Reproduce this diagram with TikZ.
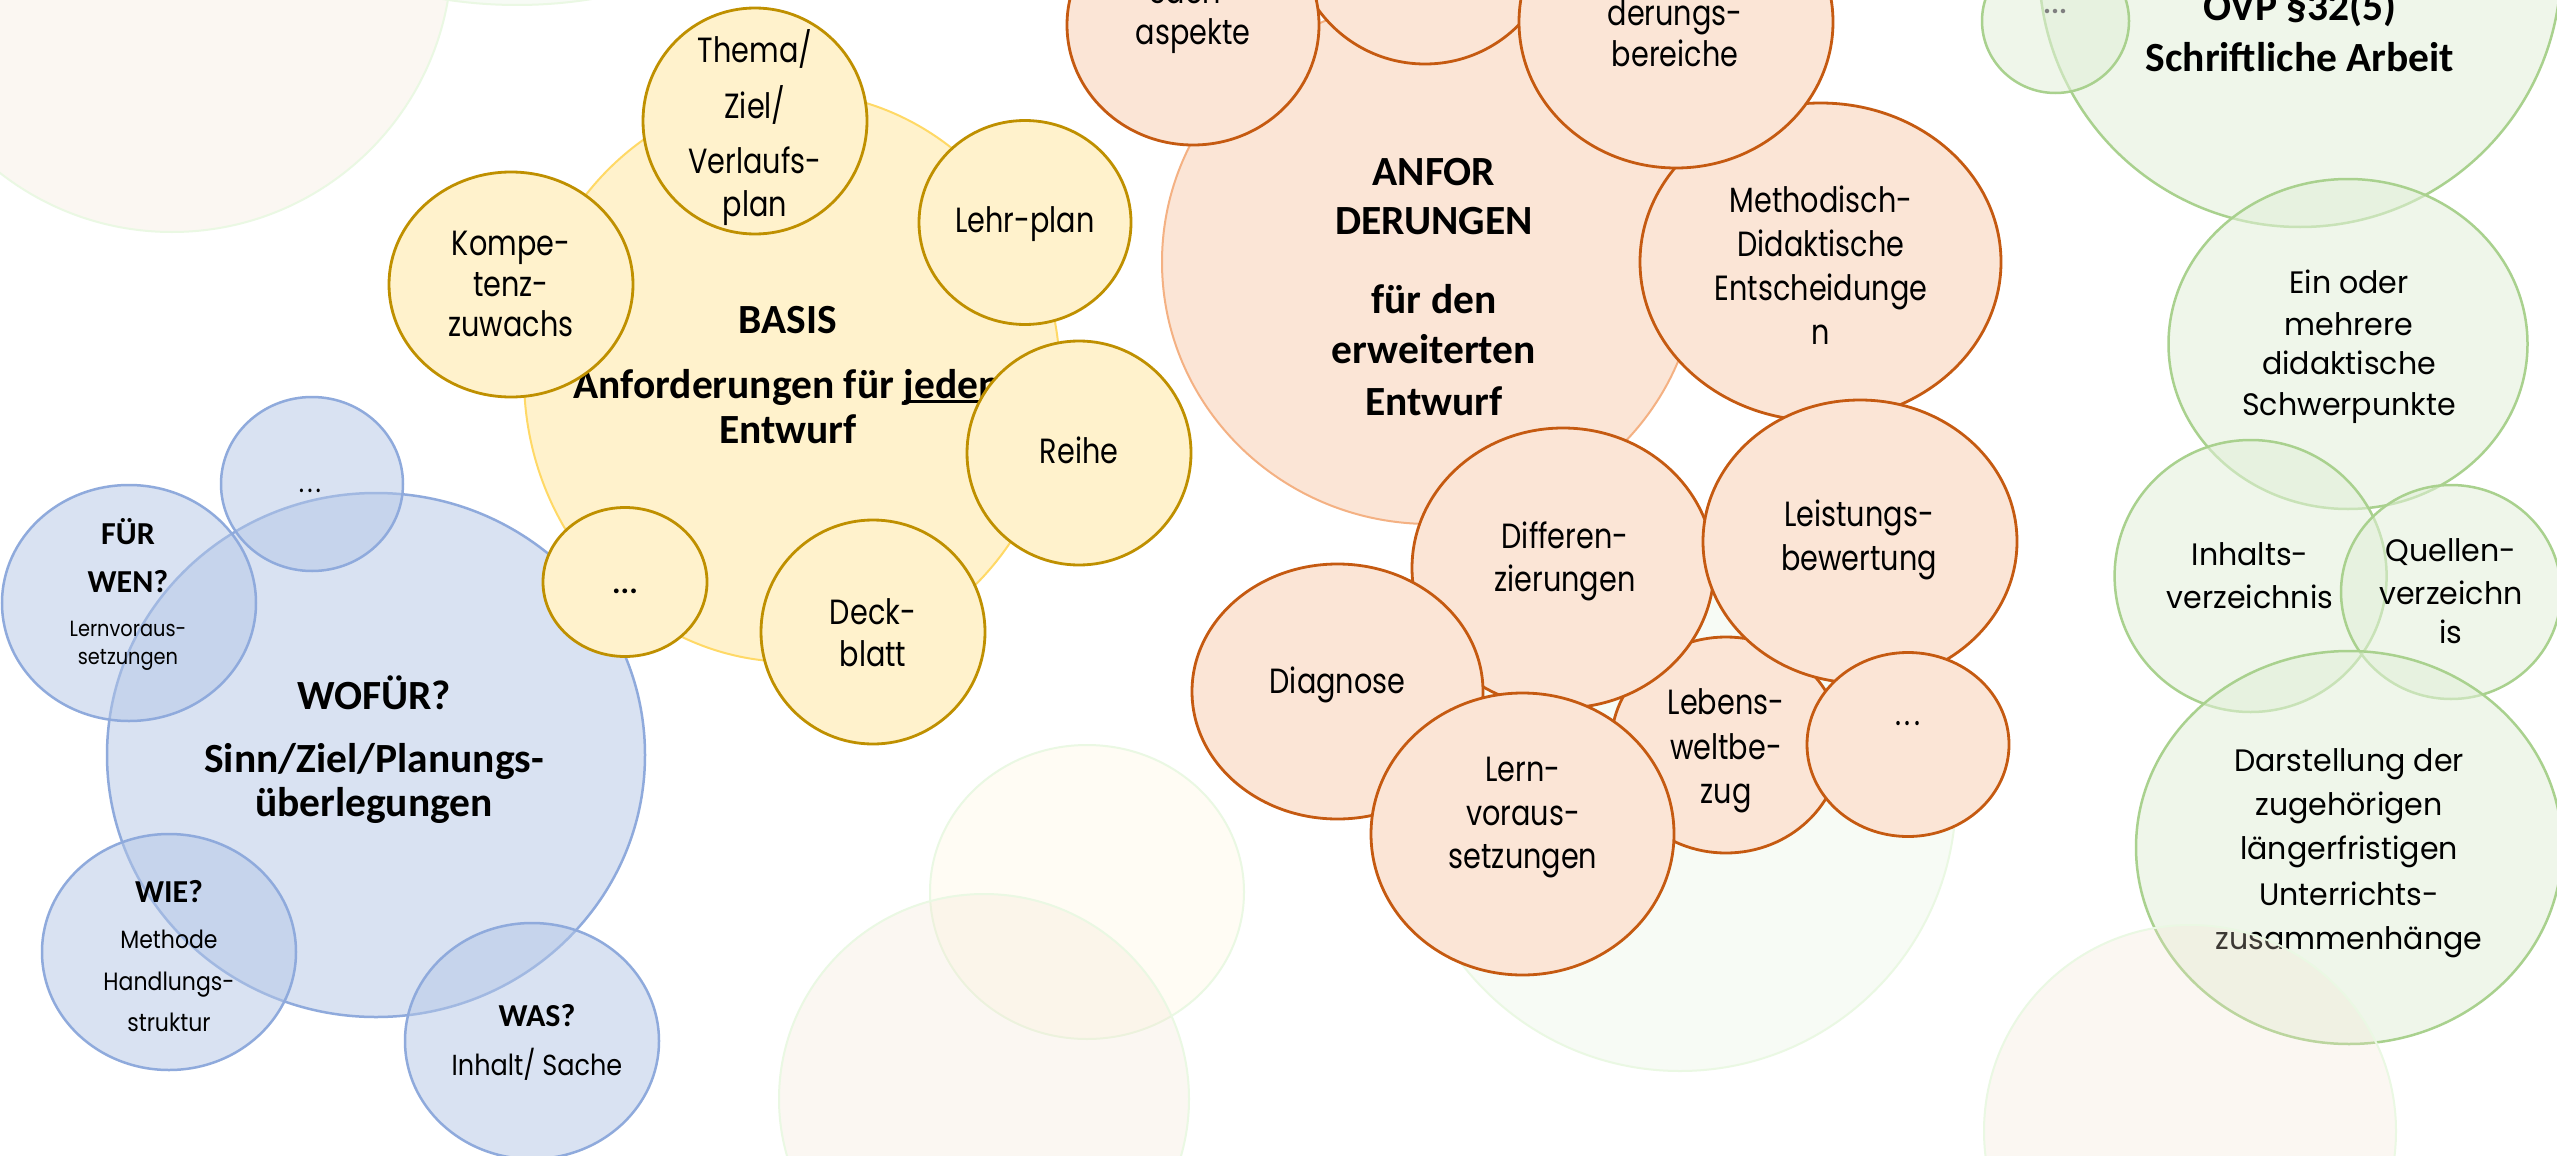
\documentclass[tikz,border=0pt]{standalone}
\usepackage{fontspec}
\setmainfont{Carlito}
\newfontfamily\geo[FakeStretch=0.82]{Poppins}
\newfontfamily\geob[FakeStretch=0.88]{Poppins}
\newfontfamily\geow[FakeStretch=0.97]{Poppins}
\newfontfamily\calfont{Carlito}
\definecolor{bluF}{HTML}{B4C7E7}
\definecolor{bluD}{HTML}{8FAADC}
\definecolor{yelF}{HTML}{FFF2CC}
\definecolor{yelBig}{HTML}{FFD966}
\definecolor{yelD}{HTML}{BF9000}
\definecolor{orF}{HTML}{FBE5D6}
\definecolor{orBig}{HTML}{F4B183}
\definecolor{orD}{HTML}{C55A11}
\definecolor{grF}{HTML}{E2F0D9}
\definecolor{grD}{HTML}{A9D18E}
\definecolor{faintG}{HTML}{EAF8E3}
\definecolor{faintP}{HTML}{F3E3CF}
\definecolor{faintY}{HTML}{FFF2CC}
\definecolor{dotgray}{HTML}{7F7F7F}
\newcommand\txtline[4]{\node[#1] (#2) at (#3) {#4};}
\newcommand\ul[1]{{\setbox0\hbox{#1}\rlap{\rule[-4.5pt]{\wd0}{2.5pt}}\box0}}
\newcommand\sdots{.\hspace{3pt}.\hspace{3pt}.}
\tikzset{
  faintpeach/.style={fill=faintP, fill opacity=0.25, draw=faintG, draw opacity=1, line width=2pt},
  faintyel/.style={fill=faintY, fill opacity=0.2, draw=faintG, draw opacity=1, line width=2pt},
  faintgreen/.style={fill=grF, fill opacity=0.25, draw=faintG, draw opacity=1, line width=2pt},
  bluebub/.style={fill=bluF, fill opacity=0.5, draw=bluD, line width=2.5pt},
  yelbig/.style={fill=yelF, draw=yelBig, line width=2pt},
  yelbub/.style={fill=yelF, draw=yelD, line width=2.8pt},
  orbig/.style={fill=orF, draw=orBig, line width=2pt},
  orbub/.style={fill=orF, draw=orD, line width=2.8pt},
  grbub/.style={fill=grF, fill opacity=0.55, draw=grD, line width=2.5pt},
  tx/.style={anchor=base, inner sep=0pt, outer sep=0pt, text=black},
  geoM/.style={tx, font=\geo\fontsize{35}{35}\selectfont},
  grT/.style={tx, font=\geow\fontsize{31}{31}\selectfont},
  bl23/.style={tx, font=\geob\fontsize{22}{22}\selectfont},
  bl26/.style={tx, font=\geob\fontsize{25}{25}\selectfont},
  bl30/.style={tx, font=\geob\fontsize{29}{29}\selectfont},
  bB/.style={tx, font=\calfont\bfseries\fontsize{41.5}{41.5}\selectfont},
  bS/.style={tx, font=\calfont\bfseries\fontsize{32}{32}\selectfont},
}
\begin{document}
\begin{tikzpicture}[x=1pt, y=-1pt]
\useasboundingbox (0,0) rectangle (2557,1156);
\clip (0,0) rectangle (2557,1156);
\fill[white] (0,0) rectangle (2557,1156);
% faint background circles
\path[faintpeach] (172,-48) circle [radius=280];
\path[faintgreen] (517,-460) circle [radius=465];
\path[faintyel] (1087,892) ellipse [x radius=157, y radius=147];
\path[faintpeach] (984,1099) circle [radius=205];
\path[faintgreen] (1680,795) circle [radius=276];
% blue cluster
\path[bluebub] (376,755) ellipse [x radius=269, y radius=262];
\path[bluebub] (312,484) ellipse [x radius=91, y radius=87];
\path[bluebub] (129,603) ellipse [x radius=127, y radius=118];
\path[bluebub] (169,952) ellipse [x radius=127, y radius=118];
\path[bluebub] (532,1041) ellipse [x radius=127, y radius=118];
\txtline{bS}{fur}{128,544.4}{FÜR}
\txtline{bS}{wen}{128,592}{WEN?}
\txtline{bl23}{lvs1}{128,636.4}{Lernvoraus-}
\txtline{bl23}{lvs2}{128,664}{setzungen}
\txtline{bl30}{bdots}{310,492}{\sdots}
\txtline{bB}{wofur}{374,709}{WOFÜR?}
\txtline{bB}{sinn}{374,772.6}{Sinn/Ziel/Planungs-}
\txtline{bB}{uber}{374,816.6}{überlegungen}
\txtline{bS}{wie}{169,902}{WIE?}
\txtline{bl26}{meth}{169,948}{Methode}
\txtline{bl26}{handl}{169,990}{Handlungs-}
\txtline{bl26}{strukt}{169,1031.5}{struktur}
\txtline{bS}{was}{537,1026}{WAS?}
\txtline{bl30}{inhsache}{537,1075.5}{Inhalt/ Sache}
% yellow cluster
\path[yelbig] (792,377) ellipse [x radius=268, y radius=285];
\txtline{bB}{basis}{788,333.5}{BASIS}
\txtline{bB}{anf}{787,398.4}{Anforderungen für \ul{jeden}}
\txtline{bB}{entw}{788,443.5}{Entwurf}
\path[yelbub] (755,121) ellipse [x radius=112, y radius=113];
\path[yelbub] (511,284.5) ellipse [x radius=122, y radius=112.5];
\path[yelbub] (1025,222.5) ellipse [x radius=106, y radius=102];
\path[yelbub] (1079,453) ellipse [x radius=112, y radius=112];
\path[yelbub] (873,632) ellipse [x radius=112, y radius=112];
\path[yelbub] (625,582) ellipse [x radius=82, y radius=74.5];
\txtline{geoM}{thema1}{755,63}{Thema/}
\txtline{geoM}{thema2}{755,118.7}{Ziel/}
\txtline{geoM}{thema3}{755,173.5}{Verlaufs-}
\txtline{geoM}{thema4}{755,216}{plan}
\txtline{geoM}{komp1}{511,255.4}{Kompe-}
\txtline{geoM}{komp2}{511,296.6}{tenz-}
\txtline{geoM}{komp3}{511,336}{zuwachs}
\txtline{geoM}{lehr}{1025,232.6}{Lehr-plan}
\txtline{geoM}{reihe}{1079,463}{Reihe}
\txtline{geoM}{deck1}{873,624}{Deck-}
\txtline{geoM}{deck2}{873,666.4}{blatt}
\txtline{bS}{ydots}{625,593.7}{...}
% orange cluster
\path[orbig] (1430,262) ellipse [x radius=268, y radius=262];
\txtline{bB}{anfor1}{1434,185.4}{ANFOR}
\txtline{bB}{anfor2}{1434,234.7}{DERUNGEN}
\txtline{bB}{anfor3}{1434,313.7}{für den}
\txtline{bB}{anfor4}{1434,363}{erweiterten}
\txtline{bB}{anfor5}{1434,415}{Entwurf}
\path[orbub] (1425,-68) circle [radius=132];
\path[orbub] (1193,25) ellipse [x radius=126, y radius=120];
\path[orbub] (1820.5,262) ellipse [x radius=180.5, y radius=159];
\path[orbub] (1676,22) ellipse [x radius=157, y radius=146];
\path[orbub] (1726,745) ellipse [x radius=115, y radius=108];
\path[orbub] (1563,568) ellipse [x radius=151, y radius=140];
\path[orbub] (1860,541.5) ellipse [x radius=157, y radius=141.5];
\path[orbub] (1908,744.5) ellipse [x radius=101, y radius=92];
\path[orbub] (1337.5,691.5) ellipse [x radius=145.5, y radius=127.5];
\path[orbub] (1522.5,834) ellipse [x radius=151.5, y radius=141];
\txtline{geoM}{sach1}{1193,4}{Sach-}
\txtline{geoM}{sach2}{1193,45}{aspekte}
\txtline{geoM}{ber1}{1675,26}{derungs-}
\txtline{geoM}{ber2}{1675,66.7}{bereiche}
\txtline{geoM}{md1}{1821,212}{Methodisch-}
\txtline{geoM}{md2}{1821,256}{Didaktische}
\txtline{geoM}{md3}{1821,300}{Entscheidunge}
\txtline{geoM}{md4}{1821,344.4}{n}
\txtline{geoM}{lb1}{1859,526.5}{Leistungs-}
\txtline{geoM}{lb2}{1859,570}{bewertung}
\txtline{geoM}{dif1}{1565,548.5}{Differen-}
\txtline{geoM}{dif2}{1565,591}{zierungen}
\txtline{geoM}{diag}{1337.5,693.8}{Diagnose}
\txtline{geoM}{leb1}{1726,714}{Lebens-}
\txtline{geoM}{leb2}{1726,759.6}{weltbe-}
\txtline{geoM}{leb3}{1726,803.5}{zug}
\txtline{geoM}{odots}{1908,725}{\sdots}
\txtline{geoM}{lern1}{1523,781.5}{Lern-}
\txtline{geoM}{lern2}{1523,825}{voraus-}
\txtline{geoM}{lern3}{1523,868.7}{setzungen}
% green cluster
\path[grbub] (2300,-34) circle [radius=261];
\path[grbub] (2055.5,21) ellipse [x radius=73.5, y radius=72];
\path[grbub] (2348,344) ellipse [x radius=179.5, y radius=165];
\path[grbub] (2250.6,576) circle [radius=136];
\path[grbub] (2451,592) ellipse [x radius=110, y radius=107];
\path[grbub] (2349,847.5) ellipse [x radius=213, y radius=196.5];
\node[tx, font=\calfont\bfseries\fontsize{30}{30}\selectfont, text=dotgray] (gdots) at (2055,14) {...};
\txtline{bB}{ovp}{2300,21}{OVP §32(5)}
\txtline{bB}{schr}{2300,72}{Schriftliche Arbeit}
\txtline{grT}{ein1}{2349,293}{Ein oder}
\txtline{grT}{ein2}{2349,335}{mehrere}
\txtline{grT}{ein3}{2349,374.3}{didaktische}
\txtline{grT}{ein4}{2349,415}{Schwerpunkte}
\txtline{grT}{inh1}{2250,565.6}{Inhalts-}
\txtline{grT}{inh2}{2250,608}{verzeichnis}
\txtline{grT}{que1}{2451,561.8}{Quellen-}
\txtline{grT}{que2}{2451,604}{verzeichn}
\txtline{grT}{que3}{2451,643.5}{is}
\txtline{grT}{dar1}{2349,771}{Darstellung der}
\txtline{grT}{dar2}{2349,815}{zugehörigen}
\txtline{grT}{dar3}{2349,859}{längerfristigen}
\txtline{grT}{dar4}{2349,905}{Unterrichts-}
\txtline{grT}{dar5}{2349,949}{zusammenhänge}
% faint circle on top at bottom right
\path[faintpeach] (2190,1131) circle [radius=206];
\end{tikzpicture}
\end{document}
